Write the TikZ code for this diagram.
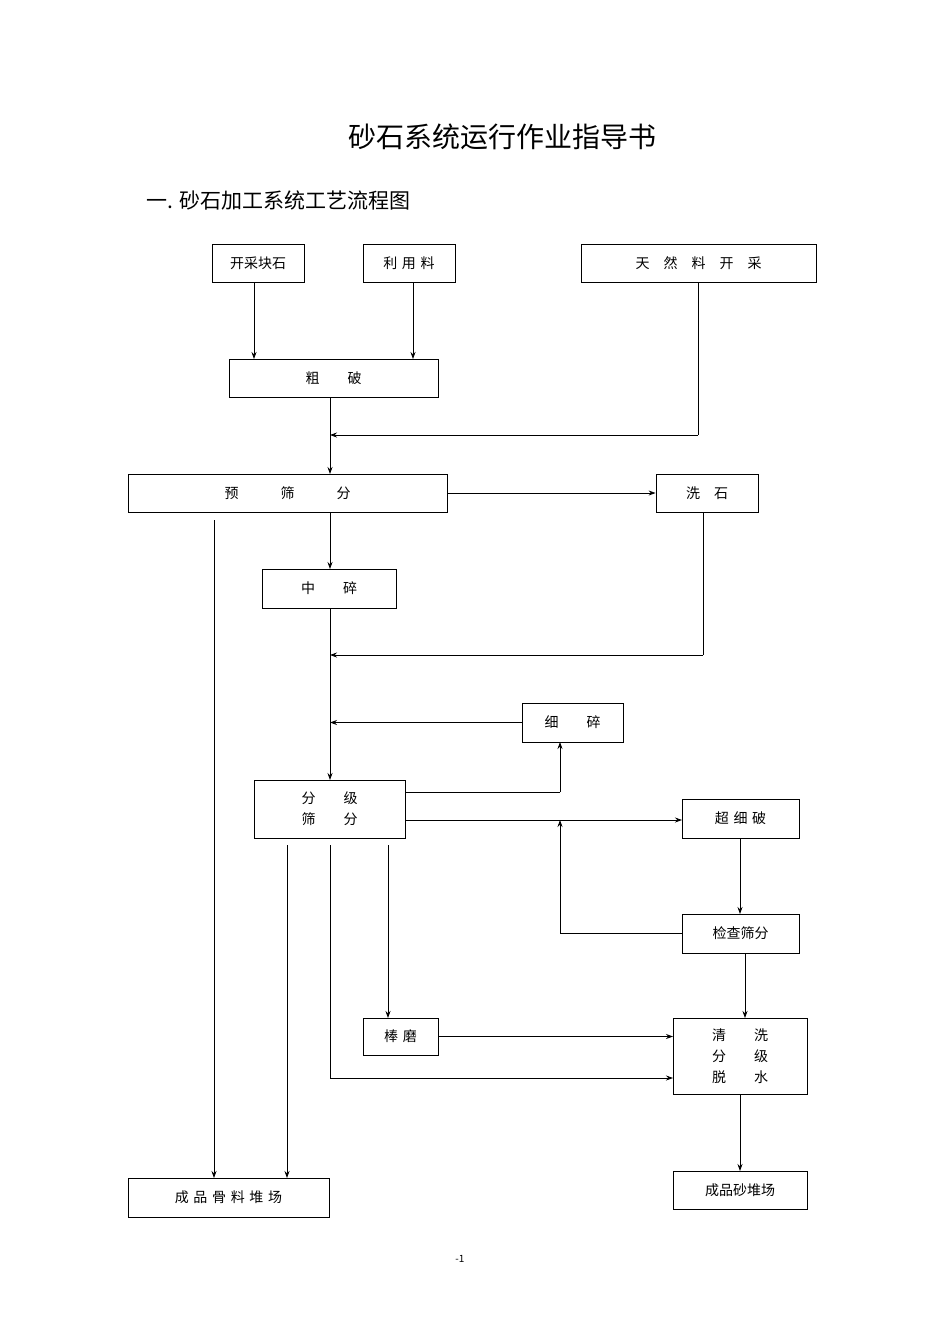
\documentclass[tikz,border=0pt]{standalone}
\usepackage{fontspec}
\setmainfont{Noto Sans CJK SC}
\usetikzlibrary{arrows.meta}
\begin{document}
\begin{tikzpicture}[x=1pt,y=-1pt,
 box/.style={draw,line width=0.8pt,inner sep=0pt,font=\fontsize{14}{21}\selectfont,align=center},
 ar/.style={-{Stealth[length=7pt,width=5pt]},line width=0.8pt},
 ln/.style={line width=0.8pt}]
\useasboundingbox (0,0) rectangle (950,1344);
\newcommand{\bx}[6]{\node[box,minimum width=#4-#2,minimum height=#5-#3] (#1) at ({(#2+#4)/2},{(#3+#5)/2}) {#6};}
\node[font=\fontsize{28}{32}\selectfont] (title) at (502,137) {砂石系统运行作业指导书};
\node[font=\fontsize{21}{24}\selectfont,anchor=west] (sec) at (143,200) {一. 砂石加工系统工艺流程图};
\node[font=\fontsize{10}{12}\selectfont] (pg) at (460,1259) {-1};
\bx{a}{212}{244}{304}{282}{开采块石}
\bx{b}{363}{244}{455}{282}{利\,\,用\,\,料}
\bx{c}{581}{244}{816}{282}{天\quad 然\quad 料\quad 开\quad 采}
\bx{d}{229}{359}{438}{397}{粗\qquad 破}
\bx{e}{128}{474}{447}{512}{预\qquad\quad 筛\qquad\quad 分}
\bx{f}{656}{474}{758}{512}{洗\quad 石}
\bx{g}{262}{569}{396}{608}{中\qquad 碎}
\bx{h}{522}{703}{623}{742}{细\qquad 碎}
\bx{i}{254}{780}{405}{838}{分\qquad 级\\ 筛\qquad 分}
\bx{j}{682}{799}{799}{838}{超\,\,细\,\,破}
\bx{k}{682}{914}{799}{953}{检查筛分}
\bx{l}{363}{1018}{438}{1055}{棒\,\,磨}
\bx{m}{673}{1018}{807}{1094}{清\qquad 洗\\ 分\qquad 级\\ 脱\qquad 水}
\bx{n}{128}{1178}{329}{1217}{成\,\,品\,\,骨\,\,料\,\,堆\,\,场}
\bx{o}{673}{1171}{807}{1209}{成品砂堆场}
\coordinate (p1) at (698,435); \coordinate (q1) at (330,435);
\coordinate (p2) at (703,655); \coordinate (q2) at (330,655);
\coordinate (q3) at (330,722.5);
\coordinate (p4) at (560,792); \coordinate (p5) at (560,933.5); \coordinate (q5) at (560,820);
\coordinate (p6) at (330,1078);
\draw[ar] (254,282) -- (254,359);
\draw[ar] (413,282) -- (413,359);
\draw[ln] (698,282) -- (p1); \draw[ar] (p1) -- (q1);
\draw[ar] (330,397) -- (330,474);
\draw[ar] (e.east) -- (f.west);
\draw[ln] (703,512) -- (p2); \draw[ar] (p2) -- (q2);
\draw[ar] (330,512) -- (330,569);
\draw[ar] (330,608) -- (330,780);
\draw[ar] (h.west) -- (q3);
\draw[ln] (405,792) -- (p4); \draw[ar] (p4) -- (560,742);
\draw[ar] (405,820) -- (682,820);
\draw[ar] (740,838) -- (740,914);
\draw[ln] (k.west) -- (p5); \draw[ar] (p5) -- (q5);
\draw[ar] (745,953) -- (745,1018);
\draw[ar] (l.east) -- (673,1036.5);
\draw[ln] (330,845) -- (p6); \draw[ar] (p6) -- (673,1078);
\draw[ar] (388,845) -- (388,1018);
\draw[ar] (287,845) -- (287,1178);
\draw[ar] (214,520) -- (214,1178);
\draw[ar] (740,1094) -- (740,1171);
\end{tikzpicture}
\end{document}
